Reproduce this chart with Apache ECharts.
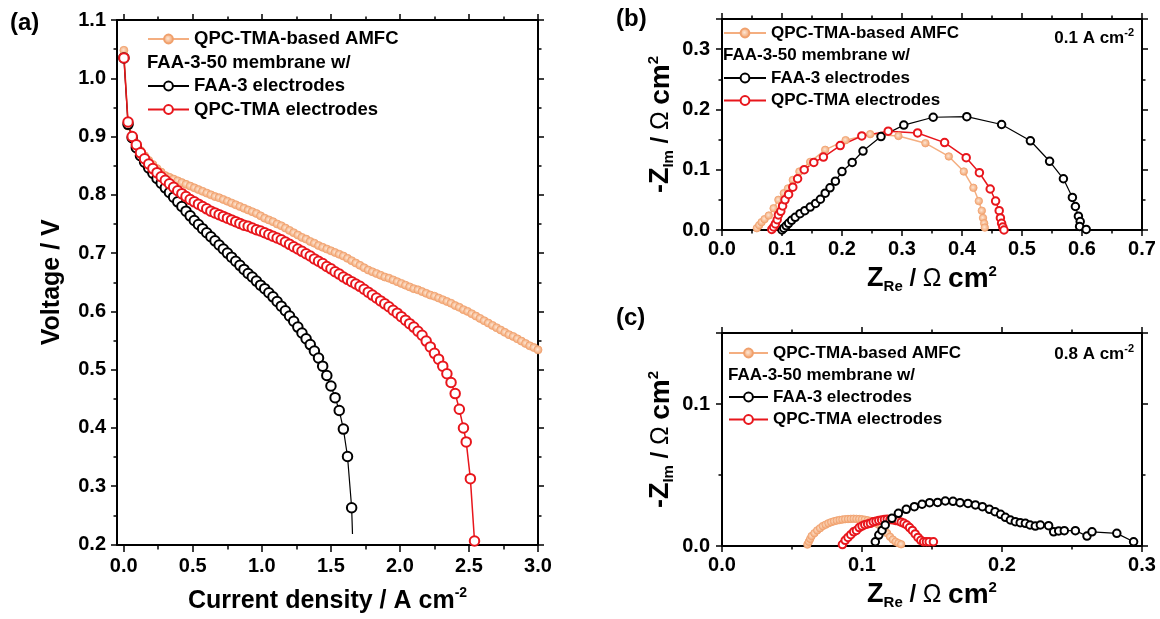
<!DOCTYPE html>
<html>
<head>
<meta charset="utf-8">
<script src="https://cdn.jsdelivr.net/npm/echarts@6/dist/echarts.min.js"></script>
<style>html,body{margin:0;padding:0;background:#fff}#c{width:1160px;height:619px}</style>
</head>
<body>
<div id="c"></div>
<script>
// ---------------- (a) polarization curves: current density (A cm-2) / voltage (V) ----------------
const jBlack = [0,0.03,0.06,0.09,0.12,0.15,0.18,0.21,0.24,0.27,0.30,0.33,0.36,0.39,0.42,0.45,0.48,0.51,0.54,0.57,0.60,0.63,0.66,0.69,0.72,0.75,0.78,0.81,0.84,0.87,0.90,0.93,0.96,0.99,1.02,1.05,1.08,1.11,1.14,1.17,1.20,1.23,1.26,1.29,1.32,1.35,1.38,1.41,1.44,1.47,1.50,1.53,1.56,1.59,1.62,1.65];
const vBlack = [1.035,0.921,0.898,0.881,0.867,0.856,0.846,0.837,0.828,0.820,0.812,0.804,0.796,0.788,0.780,0.772,0.764,0.756,0.749,0.742,0.735,0.728,0.721,0.714,0.707,0.700,0.693,0.686,0.679,0.672,0.665,0.659,0.652,0.645,0.639,0.632,0.625,0.617,0.609,0.601,0.592,0.583,0.573,0.563,0.553,0.543,0.532,0.520,0.506,0.490,0.472,0.452,0.430,0.398,0.351,0.263];
const blackLineEnd = [1.656, 0.218];

const jRed = [0,0.03,0.06,0.09,0.12,0.15,0.18,0.21,0.24,0.27,0.30,0.33,0.36,0.39,0.42,0.45,0.48,0.51,0.54,0.57,0.60,0.63,0.66,0.69,0.72,0.75,0.78,0.81,0.84,0.87,0.90,0.93,0.96,0.99,1.02,1.05,1.08,1.11,1.14,1.17,1.20,1.23,1.26,1.29,1.32,1.35,1.38,1.41,1.44,1.47,1.50,1.53,1.56,1.59,1.62,1.65,1.68,1.71,1.74,1.77,1.80,1.83,1.86,1.89,1.92,1.95,1.98,2.01,2.04,2.07,2.10,2.13,2.16,2.19,2.22,2.25,2.28,2.31,2.34,2.37,2.40,2.43,2.46,2.48,2.51,2.54];
const vRed = [1.035,0.925,0.900,0.886,0.872,0.862,0.853,0.845,0.838,0.831,0.825,0.819,0.813,0.807,0.802,0.797,0.792,0.788,0.784,0.780,0.776,0.772,0.769,0.766,0.763,0.760,0.757,0.754,0.751,0.748,0.746,0.743,0.740,0.738,0.735,0.732,0.729,0.726,0.723,0.719,0.715,0.711,0.707,0.703,0.699,0.695,0.690,0.686,0.682,0.677,0.673,0.668,0.664,0.659,0.655,0.651,0.647,0.643,0.638,0.633,0.628,0.623,0.618,0.613,0.608,0.602,0.597,0.591,0.585,0.579,0.573,0.566,0.559,0.549,0.539,0.528,0.518,0.506,0.493,0.478,0.459,0.432,0.400,0.376,0.313,0.206];

const jOrange = [0,0.03,0.06,0.09,0.12,0.15,0.18,0.21,0.24,0.27,0.30,0.33,0.36,0.39,0.42,0.45,0.48,0.51,0.54,0.57,0.60,0.63,0.66,0.69,0.72,0.75,0.78,0.81,0.84,0.87,0.90,0.93,0.96,0.99,1.02,1.05,1.08,1.11,1.14,1.17,1.20,1.23,1.26,1.29,1.32,1.35,1.38,1.41,1.44,1.47,1.50,1.53,1.56,1.59,1.62,1.65,1.68,1.71,1.74,1.77,1.80,1.83,1.86,1.89,1.92,1.95,1.98,2.01,2.04,2.07,2.10,2.13,2.16,2.19,2.22,2.25,2.28,2.31,2.34,2.37,2.40,2.43,2.46,2.49,2.52,2.55,2.58,2.61,2.64,2.67,2.70,2.73,2.76,2.79,2.82,2.85,2.88,2.91,2.94,2.97,3.00];
const vOrange = [1.048,0.918,0.898,0.886,0.876,0.867,0.859,0.852,0.845,0.839,0.833,0.830,0.827,0.824,0.821,0.818,0.815,0.812,0.809,0.806,0.803,0.800,0.797,0.795,0.792,0.789,0.786,0.783,0.780,0.777,0.774,0.771,0.768,0.764,0.760,0.757,0.754,0.750,0.747,0.743,0.739,0.735,0.731,0.727,0.724,0.720,0.717,0.713,0.710,0.707,0.704,0.701,0.698,0.695,0.691,0.687,0.683,0.679,0.675,0.671,0.668,0.665,0.662,0.659,0.657,0.654,0.651,0.648,0.645,0.642,0.639,0.637,0.634,0.631,0.628,0.626,0.623,0.620,0.617,0.614,0.610,0.607,0.603,0.600,0.596,0.592,0.588,0.584,0.580,0.576,0.572,0.568,0.564,0.560,0.557,0.553,0.549,0.545,0.541,0.538,0.534];

// ---------------- (b) Nyquist at 0.1 A cm-2: Z_Re / -Z_Im (ohm cm2) ----------------
const bReBlack = [0.100,0.103,0.107,0.111,0.116,0.122,0.130,0.138,0.147,0.156,0.164,0.172,0.180,0.189,0.200,0.217,0.235,0.265,0.303,0.352,0.408,0.466,0.514,0.546,0.569,0.584,0.589,0.594,0.597,0.596,0.607];
const bImBlack = [0.000,0.003,0.007,0.011,0.016,0.021,0.027,0.032,0.038,0.044,0.051,0.061,0.070,0.081,0.097,0.112,0.131,0.155,0.174,0.187,0.188,0.175,0.148,0.114,0.085,0.054,0.039,0.023,0.014,0.006,0.001];
const bReRed = [0.083,0.086,0.089,0.092,0.094,0.098,0.101,0.105,0.111,0.118,0.126,0.137,0.153,0.169,0.197,0.233,0.277,0.326,0.371,0.407,0.429,0.447,0.456,0.462,0.464,0.466,0.468,0.470];
const bImRed = [0.001,0.005,0.010,0.017,0.025,0.031,0.040,0.050,0.059,0.071,0.085,0.100,0.112,0.121,0.140,0.156,0.164,0.161,0.145,0.120,0.095,0.068,0.048,0.032,0.020,0.011,0.005,0.000];
const bReOrange = [0.058,0.062,0.066,0.071,0.078,0.086,0.094,0.103,0.110,0.118,0.129,0.147,0.172,0.206,0.247,0.294,0.339,0.378,0.403,0.419,0.428,0.433,0.435,0.437,0.438];
const bImOrange = [0.003,0.008,0.013,0.018,0.024,0.036,0.050,0.061,0.069,0.083,0.097,0.113,0.133,0.149,0.159,0.156,0.144,0.122,0.097,0.070,0.048,0.032,0.020,0.011,0.004];

// ---------------- (c) Nyquist at 0.8 A cm-2 ----------------
const cReBlack = [0.1095,0.112,0.1143,0.1166,0.1214,0.126,0.1316,0.1374,0.1429,0.1483,0.154,0.1595,0.165,0.170,0.1757,0.181,0.186,0.191,0.195,0.199,0.2024,0.206,0.2095,0.213,0.2167,0.220,0.2238,0.2274,0.2333,0.2369,0.2405,0.2445,0.2524,0.2607,0.2643,0.282,0.294];
const cImBlack = [0.003,0.0077,0.011,0.0148,0.0195,0.023,0.0258,0.0277,0.0294,0.0305,0.0307,0.0317,0.0315,0.0305,0.030,0.0289,0.0277,0.0258,0.0242,0.0223,0.0202,0.0183,0.0171,0.0164,0.016,0.0148,0.014,0.0148,0.0143,0.010,0.0106,0.0108,0.0108,0.007,0.010,0.0089,0.003];
const cReRed = [0.086,0.088,0.090,0.092,0.094,0.096,0.098,0.100,0.102,0.104,0.106,0.108,0.110,0.112,0.114,0.116,0.118,0.120,0.122,0.124,0.126,0.128,0.130,0.132,0.134,0.136,0.138,0.140,0.142,0.144,0.146,0.148,0.151];
const cImRed = [0.001,0.004,0.006,0.008,0.010,0.011,0.013,0.014,0.015,0.0155,0.016,0.017,0.0175,0.018,0.0183,0.0186,0.0188,0.0186,0.0184,0.018,0.0176,0.0168,0.016,0.0148,0.013,0.011,0.0085,0.006,0.004,0.003,0.003,0.003,0.003];
const cReOrange = [0.061,0.062,0.063,0.064,0.066,0.068,0.070,0.072,0.074,0.076,0.078,0.080,0.082,0.084,0.086,0.088,0.090,0.092,0.094,0.096,0.098,0.100,0.102,0.104,0.106,0.108,0.110,0.112,0.114,0.116,0.118,0.120,0.122,0.124,0.126,0.128];
const cImOrange = [0.001,0.003,0.005,0.007,0.009,0.011,0.0125,0.014,0.015,0.016,0.0168,0.0174,0.0179,0.0183,0.0186,0.0189,0.019,0.0191,0.0192,0.0191,0.019,0.0188,0.0185,0.0181,0.0176,0.017,0.016,0.015,0.0135,0.0115,0.009,0.0065,0.0045,0.003,0.002,0.0012];

// ---------------- labels ----------------
const nameOrange = 'QPC-TMA-based AMFC';
const nameBlack = 'FAA-3 electrodes';
const nameRed = 'QPC-TMA electrodes';
const headerText = 'FAA-3-50 membrane w/';
const panelLabels = ['(a)', '(b)', '(c)'];
const condB = '0.1 A cm';
const condC = '0.8 A cm';

// ---------------- styling ----------------
const FONT = "'Liberation Sans', Arial, Helvetica, sans-serif";
const RED = '#E8161C', BLACK = '#000000', ORANGE = '#F4AE80';
const orangeFill = new echarts.graphic.RadialGradient(0.45, 0.45, 0.6, [
  {offset: 0, color: '#FDE6D4'}, {offset: 0.45, color: '#F7C09A'}, {offset: 1, color: '#F09E68'}
]);
const pts = (xs, ys) => xs.map((x, i) => [x, ys[i]]);

function mk(kind, name, xi, yi, data, size) {
  const s = {
    type: 'line', name, xAxisIndex: xi, yAxisIndex: yi, data,
    symbolSize: size, showAllSymbol: true, clip: false, animation: false,
    emphasis: {disabled: true}, z: 2
  };
  if (kind === 'orange') {
    s.symbol = 'circle';
    s.itemStyle = {color: orangeFill, borderColor: '#F0A06C', borderWidth: 0.8};
    s.lineStyle = {color: ORANGE, width: 1.5};
  } else {
    const col = kind === 'red' ? RED : BLACK;
    s.symbol = 'emptyCircle';
    s.itemStyle = {color: col, borderWidth: 1.8};
    s.lineStyle = {color: col, width: kind === 'red' ? 1.5 : 1.2};
  }
  return s;
}

const blackA = pts(jBlack, vBlack);
blackA.push({value: blackLineEnd, symbol: 'none'});

const series = [
  mk('orange', nameOrange, 0, 0, pts(jOrange, vOrange), 8),
  mk('black', nameBlack, 0, 0, blackA, 9.5),
  mk('red', nameRed, 0, 0, pts(jRed, vRed), 9.5),
  mk('orange', nameOrange, 4, 3, pts(bReOrange, bImOrange), 7.5),
  mk('black', nameBlack, 4, 3, pts(bReBlack, bImBlack), 7.5),
  mk('red', nameRed, 4, 3, pts(bReRed, bImRed), 7.5),
  mk('orange', nameOrange, 6, 5, pts(cReOrange, cImOrange), 7.5),
  mk('red', nameRed, 6, 5, pts(cReRed, cImRed), 7.5),
  mk('black', nameBlack, 6, 5, pts(cReBlack, cImBlack), 7.5)
];

const lineOn = {show: true, onZero: false, lineStyle: {color: '#000', width: 2}};
const lineOff = {show: false, onZero: false};
const tickOn = {show: true, inside: false, length: 6, lineStyle: {color: '#000', width: 1.5}};
const minorOn = {show: true, splitNumber: 2, length: 3.5, lineStyle: {color: '#000', width: 1.5}};
const off = {show: false};
const lab = (extra) => Object.assign({show: true, fontSize: 20, fontWeight: 'bold', fontFamily: FONT, color: '#000', margin: 10,
  formatter: v => Number(v).toFixed(1)}, extra || {});
const base = {type: 'value', splitLine: off, axisPointer: off};

const richZ = (first, sub) => ({
  text: `{z|${first}}{sub|${sub}}{n| / }{o|Ω}{n| }{c|cm}{sup|2}`,
  style: {
    rich: {
      z: {fontSize: 27, fontWeight: 'bold', fontFamily: FONT, color: '#000', lineHeight: 30},
      sub: {fontSize: 15, fontWeight: 'bold', fontFamily: FONT, color: '#000', lineHeight: 16, padding: [18, 0, 0, 0], verticalAlign: 'bottom'},
      n: {fontSize: 24, fontWeight: 'bold', fontFamily: FONT, color: '#000', lineHeight: 30},
      o: {fontSize: 25, fontWeight: 'normal', fontFamily: FONT, color: '#000', lineHeight: 30},
      c: {fontSize: 28, fontWeight: 'bold', fontFamily: FONT, color: '#000', lineHeight: 30},
      sup: {fontSize: 15, fontWeight: 'bold', fontFamily: FONT, color: '#000', lineHeight: 16, verticalAlign: 'top'}
    }
  }
});
const zreName = richZ('Z', 'Re');
const zimName = richZ('-Z', 'Im');

const xAxis = [
  Object.assign({}, base, {gridIndex: 0, min: -0.05, max: 3, position: 'bottom', axisLine: lineOn, axisTick: off, minorTick: off, axisLabel: off,
    name: '{t|Current density / A cm}{s|-2}', nameLocation: 'middle', nameGap: 42,
    nameTextStyle: {rich: {
      t: {fontSize: 25, fontWeight: 'bold', fontFamily: FONT, color: '#000', lineHeight: 30},
      s: {fontSize: 14, fontWeight: 'bold', fontFamily: FONT, color: '#000', lineHeight: 14, verticalAlign: 'top'}
    }}}),
  Object.assign({}, base, {gridIndex: 0, min: -0.05, max: 3, position: 'top', axisLine: lineOn, axisTick: off, minorTick: off, axisLabel: off}),
  Object.assign({}, base, {gridIndex: 1, min: 0, max: 3, interval: 0.5, position: 'bottom', axisLine: lineOff, axisTick: tickOn, minorTick: minorOn, axisLabel: lab()}),
  Object.assign({}, base, {gridIndex: 1, min: 0, max: 3, interval: 0.5, position: 'top', axisLine: lineOff, axisTick: tickOn, minorTick: minorOn, axisLabel: off}),
  Object.assign({}, base, {gridIndex: 2, min: 0, max: 0.7, interval: 0.1, position: 'bottom', axisLine: lineOn, axisTick: tickOn, minorTick: minorOn, axisLabel: lab({margin: 9}),
    name: zreName.text, nameLocation: 'middle', nameGap: 34, nameTextStyle: zreName.style}),
  Object.assign({}, base, {gridIndex: 2, min: 0, max: 0.7, interval: 0.1, position: 'top', axisLine: lineOn, axisTick: tickOn, minorTick: minorOn, axisLabel: off}),
  Object.assign({}, base, {gridIndex: 3, min: 0, max: 0.3, interval: 0.1, position: 'bottom', axisLine: lineOn, axisTick: tickOn, minorTick: minorOn, axisLabel: lab({margin: 9}),
    name: zreName.text, nameLocation: 'middle', nameGap: 34, nameTextStyle: zreName.style}),
  Object.assign({}, base, {gridIndex: 3, min: 0, max: 0.3, interval: 0.1, position: 'top', axisLine: lineOn, axisTick: tickOn, minorTick: minorOn, axisLabel: off})
];

const yAxis = [
  Object.assign({}, base, {gridIndex: 0, min: 0.2, max: 1.1, interval: 0.1, position: 'left', axisLine: lineOn, axisTick: tickOn, minorTick: minorOn, axisLabel: lab({margin: 11}),
    name: 'Voltage / V', nameLocation: 'middle', nameGap: 52, nameRotate: 90,
    nameTextStyle: {fontSize: 25, fontWeight: 'bold', fontFamily: FONT, color: '#000'}}),
  Object.assign({}, base, {gridIndex: 0, min: 0.2, max: 1.1, interval: 0.1, position: 'right', axisLine: lineOn, axisTick: tickOn, minorTick: minorOn, axisLabel: off}),
  Object.assign({}, base, {gridIndex: 1, min: 0.2, max: 1.1, show: false}),
  Object.assign({}, base, {gridIndex: 2, min: 0, max: 0.35, interval: 0.1, position: 'left', axisLine: lineOn, axisTick: tickOn, minorTick: minorOn, axisLabel: lab({margin: 12, showMaxLabel: false}),
    name: zimName.text, nameLocation: 'middle', nameGap: 46, nameRotate: 90, nameTextStyle: zimName.style}),
  Object.assign({}, base, {gridIndex: 2, min: 0, max: 0.35, interval: 0.1, position: 'right', axisLine: lineOn, axisTick: tickOn, minorTick: minorOn, axisLabel: off}),
  Object.assign({}, base, {gridIndex: 3, min: 0, max: 0.15, interval: 0.1, position: 'left', axisLine: lineOn, axisTick: tickOn, minorTick: minorOn, axisLabel: lab({margin: 12, showMaxLabel: false}),
    name: zimName.text, nameLocation: 'middle', nameGap: 46, nameRotate: 90, nameTextStyle: zimName.style}),
  Object.assign({}, base, {gridIndex: 3, min: 0, max: 0.15, interval: 0.1, position: 'right', axisLine: lineOn, axisTick: tickOn, minorTick: minorOn, axisLabel: off})
];

const grid = [
  {left: 117, top: 20, width: 421, height: 526},
  {left: 123.7, top: 20, width: 414.3, height: 526},
  {left: 722, top: 19, width: 420, height: 211},
  {left: 722, top: 333, width: 420, height: 213}
];

function leg(left, top, names, fs, lh, w) {
  return {
    left, top, orient: 'vertical', padding: 0, itemGap: 0.5, selectedMode: false,
    itemWidth: w, itemHeight: 11, data: names,
    textStyle: {fontFamily: FONT, fontWeight: 'bold', fontSize: fs, color: '#000', lineHeight: lh}
  };
}
const legend = [
  leg(147, 27.5, [nameOrange], 18.5, 23, 41),
  leg(147, 74.5, [nameBlack, nameRed], 18.5, 23, 41),
  leg(723, 22, [nameOrange], 17, 22, 42),
  leg(723, 67, [nameBlack, nameRed], 17, 22, 42),
  leg(728, 342, [nameOrange], 17, 22, 39),
  leg(728, 386, [nameBlack, nameRed], 17, 22, 39)
];

const txt = (x, y, text, fs, extra) => ({
  type: 'text', x, y, silent: true,
  style: Object.assign({text, fontSize: fs, fontWeight: 'bold', fontFamily: FONT, fill: '#000', verticalAlign: 'middle'}, extra || {})
});
const condRich = {
  a: {fontSize: 17, fontWeight: 'bold', fontFamily: FONT, fill: '#000', color: '#000', lineHeight: 22},
  s: {fontSize: 11, fontWeight: 'bold', fontFamily: FONT, fill: '#000', color: '#000', lineHeight: 11, verticalAlign: 'top'}
};
const graphic = [
  txt(147, 63, headerText, 18.5),
  txt(723, 55, headerText, 17),
  txt(728, 375, headerText, 17),
  txt(10, 23, panelLabels[0], 24),
  txt(616, 19, panelLabels[1], 24),
  txt(616, 318, panelLabels[2], 24),
  txt(1134, 38, `{a|${condB}}{s|-2}`, 17, {align: 'right', rich: condRich}),
  txt(1134, 354, `{a|${condC}}{s|-2}`, 17, {align: 'right', rich: condRich})
];

const chart = echarts.init(document.getElementById('c'), null, {renderer: 'canvas'});
chart.setOption({
  animation: false,
  backgroundColor: '#fff',
  grid, xAxis, yAxis, legend, graphic, series
});
</script>
</body>
</html>
